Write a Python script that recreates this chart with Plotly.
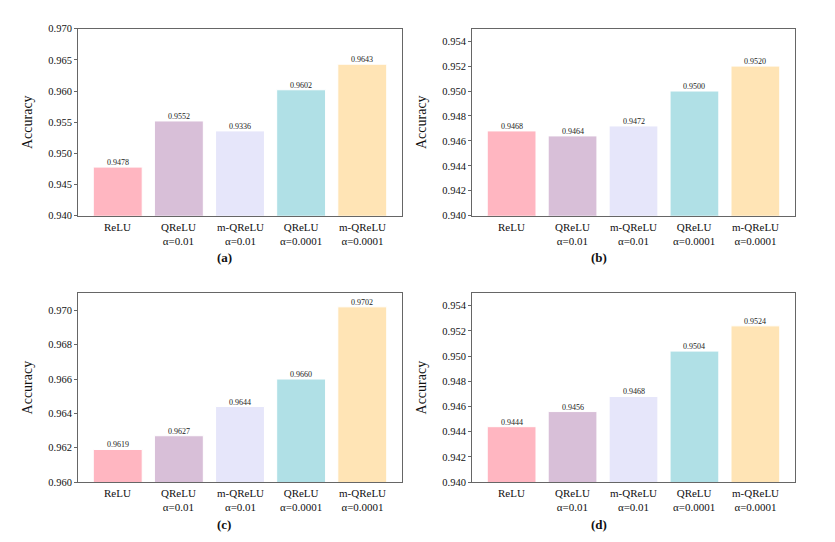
import plotly.graph_objects as go

categories = ["ReLU", "QReLU<br>α=0.01", "m-QReLU<br>α=0.01", "QReLU<br>α=0.0001", "m-QReLU<br>α=0.0001"]
colors = ["#FFB6C1", "#D8BFD8", "#E6E6FA", "#B0E0E6", "#FFE4B5"]

vals_a = [0.9478, 0.9552, 0.9536, 0.9602, 0.9643]
text_a = ["0.9478", "0.9552", "0.9336", "0.9602", "0.9643"]
vals_b = [0.9468, 0.9464, 0.9472, 0.9500, 0.9520]
text_b = ["0.9468", "0.9464", "0.9472", "0.9500", "0.9520"]
vals_c = [0.9619, 0.9627, 0.9644, 0.9660, 0.9702]
text_c = ["0.9619", "0.9627", "0.9644", "0.9660", "0.9702"]
vals_d = [0.9444, 0.9456, 0.9468, 0.9504, 0.9524]
text_d = ["0.9444", "0.9456", "0.9468", "0.9504", "0.9524"]

panels = [
    ("(a)", vals_a, text_a, [0.940, 0.970], 0.005),
    ("(b)", vals_b, text_b, [0.940, 0.955], 0.002),
    ("(c)", vals_c, text_c, [0.960, 0.971], 0.002),
    ("(d)", vals_d, text_d, [0.940, 0.955], 0.002),
]

OFF = 8  # page body margin
W, H = 835 - OFF, 542 - OFF
xdoms = [(78 - OFF, 402 - OFF), (472 - OFF, 795 - OFF)]
ydoms = [(24 - OFF, 215 - OFF), (294 - OFF, 487 - OFF)]

FONT = "'Liberation Serif', 'Times New Roman', Times, serif"
fig = go.Figure()
annotations = []
for i, (lab, vals, txt, yr, dt) in enumerate(panels):
    col = i % 2
    row = i // 2
    xd = xdoms[col]
    yd = ydoms[row]
    n = "" if i == 0 else str(i + 1)
    fig.add_trace(go.Bar(
        x=list(range(len(categories))), y=vals,
        marker=dict(color=colors, line=dict(color="white", width=1)),
        width=0.8, cliponaxis=False, xaxis="x" + n, yaxis="y" + n, showlegend=False,
    ))
    fig.layout["xaxis" + n] = dict(
        domain=[xd[0] / W, xd[1] / W], anchor="y" + n,
        range=[-0.65, 4.65], showticklabels=False,
        showline=True, mirror=True, linecolor="#666", linewidth=1,
        showgrid=False, zeroline=False, ticks="",
    )
    fig.layout["yaxis" + n] = dict(
        domain=[1 - yd[1] / H, 1 - yd[0] / H], anchor="x" + n,
        range=yr, dtick=dt, tick0=yr[0], tickformat=".3f",
        showline=True, mirror=True, linecolor="#666", linewidth=1,
        showgrid=False, zeroline=False, ticks="outside", ticklen=3,
        tickcolor="#666",
        tickfont=dict(family=FONT, size=10.5, color="#111"),
        title=dict(text="Accuracy", font=dict(family=FONT, size=14, color="#111"), standoff=12),
    )
    xref = "x" + n
    yref = "y" + n
    for k, (v, t) in enumerate(zip(vals, txt)):
        annotations.append(dict(
            text=t, x=k, y=v, xref=xref, yref=yref, yanchor="bottom",
            showarrow=False, yshift=-2,
            font=dict(family=FONT, size=8, color="#222"),
        ))
    for k, c in enumerate(categories):
        annotations.append(dict(
            text=c, x=k, y=1 - yd[1] / H, xref=xref, yref="paper", yanchor="top",
            showarrow=False, yshift=-3,
            font=dict(family=FONT, size=11, color="#111"),
        ))
    annotations.append(dict(
        text="<b>" + lab + "</b>", x=(xd[0] + xd[1]) / 2 / W - 25 / W,
        y=1 - (yd[1] + 43) / H, xref="paper", yref="paper", yanchor="middle",
        showarrow=False, font=dict(family=FONT, size=13, color="#111"),
    ))

fig.update_layout(
    width=W, height=H, margin=dict(l=0, r=0, t=0, b=0),
    plot_bgcolor="white", paper_bgcolor="white",
    annotations=annotations, bargap=0.2,
)
fig.write_html("out.html")
